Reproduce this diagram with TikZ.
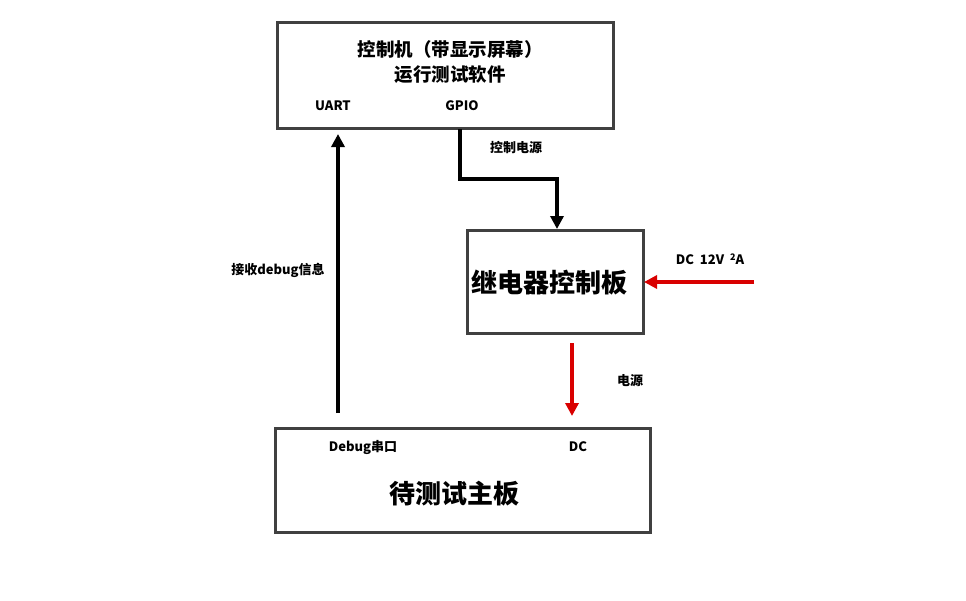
\documentclass[tikz,border=0pt]{standalone}
\usepackage{fontspec}
\setmainfont{Liberation Sans}
\newfontfamily\cjk{Noto Sans CJK SC}
\usetikzlibrary{arrows.meta}
\tikzset{
    box/.style={draw=black!75, line width=3pt, inner sep=0pt},
    lbl/.style={font=\cjk\bfseries\fontsize{13}{15}\selectfont, inner sep=1pt},
    blk/.style={line width=3.5pt, -{Triangle[length=13pt,width=13pt]}},
    red/.style={draw=red!85!black, line width=3.5pt, -{Triangle[length=13pt,width=13pt]}}
}
\begin{document}
\begin{tikzpicture}[x=1pt, y=-1pt]
	\useasboundingbox (0,0) rectangle (966,600);
	\node (pc) [box, minimum width=336pt, minimum height=106pt] at (445,75) {};
	\node (relay) [box, minimum width=176pt, minimum height=103pt] at (555,281.5) {};
	\node (dut) [box, minimum width=375pt, minimum height=104pt] at (462.5,480) {};
	
	\node (pct) [font=\cjk\bfseries\fontsize{18.5}{25}\selectfont, align=center] at (450,62)
		{控制机（带显示屏幕）\\运行测试软件};
	\node (uart) [lbl] at (333,106) {UART};
	\node (gpio) [lbl] at (462,106) {GPIO};
	\node (relayt) [font=\cjk\bfseries\fontsize{26}{28}\selectfont] at (549,283) {继电器控制板};
	\node (dbg) [lbl] at (363,447) {Debug串口};
	\node (dc) [lbl] at (578,447) {DC};
	\node (dutt) [font=\cjk\bfseries\fontsize{26}{28}\selectfont] at (454,494) {待测试主板};
	
	\coordinate (up0) at (338,413);
	\coordinate (up1) at (338,134);
	\coordinate (g0) at (460,129);
	\coordinate (g1) at (557,229);
	\coordinate (in0) at (754,282);
	\coordinate (in1) at (644,282);
	\coordinate (pw0) at (572,343);
	\coordinate (pw1) at (572,416);
	
	\draw [blk] (up0) -- (up1);
	\draw [blk] (g0) |- (508,179) -| (g1);
	\draw [red] (in0) -- (in1);
	\draw [red] (pw0) -- (pw1);
	
	\node [lbl] at (516,148) {控制电源};
	\node [lbl] at (278,270) {接收debug信息};
	\node [lbl] at (710,259) {DC\ \ 12V\ \ \raisebox{0.5ex}{\fontsize{9}{9}\selectfont 2}A};
	\node [lbl] at (630,381) {电源};
\end{tikzpicture}
\end{document}
